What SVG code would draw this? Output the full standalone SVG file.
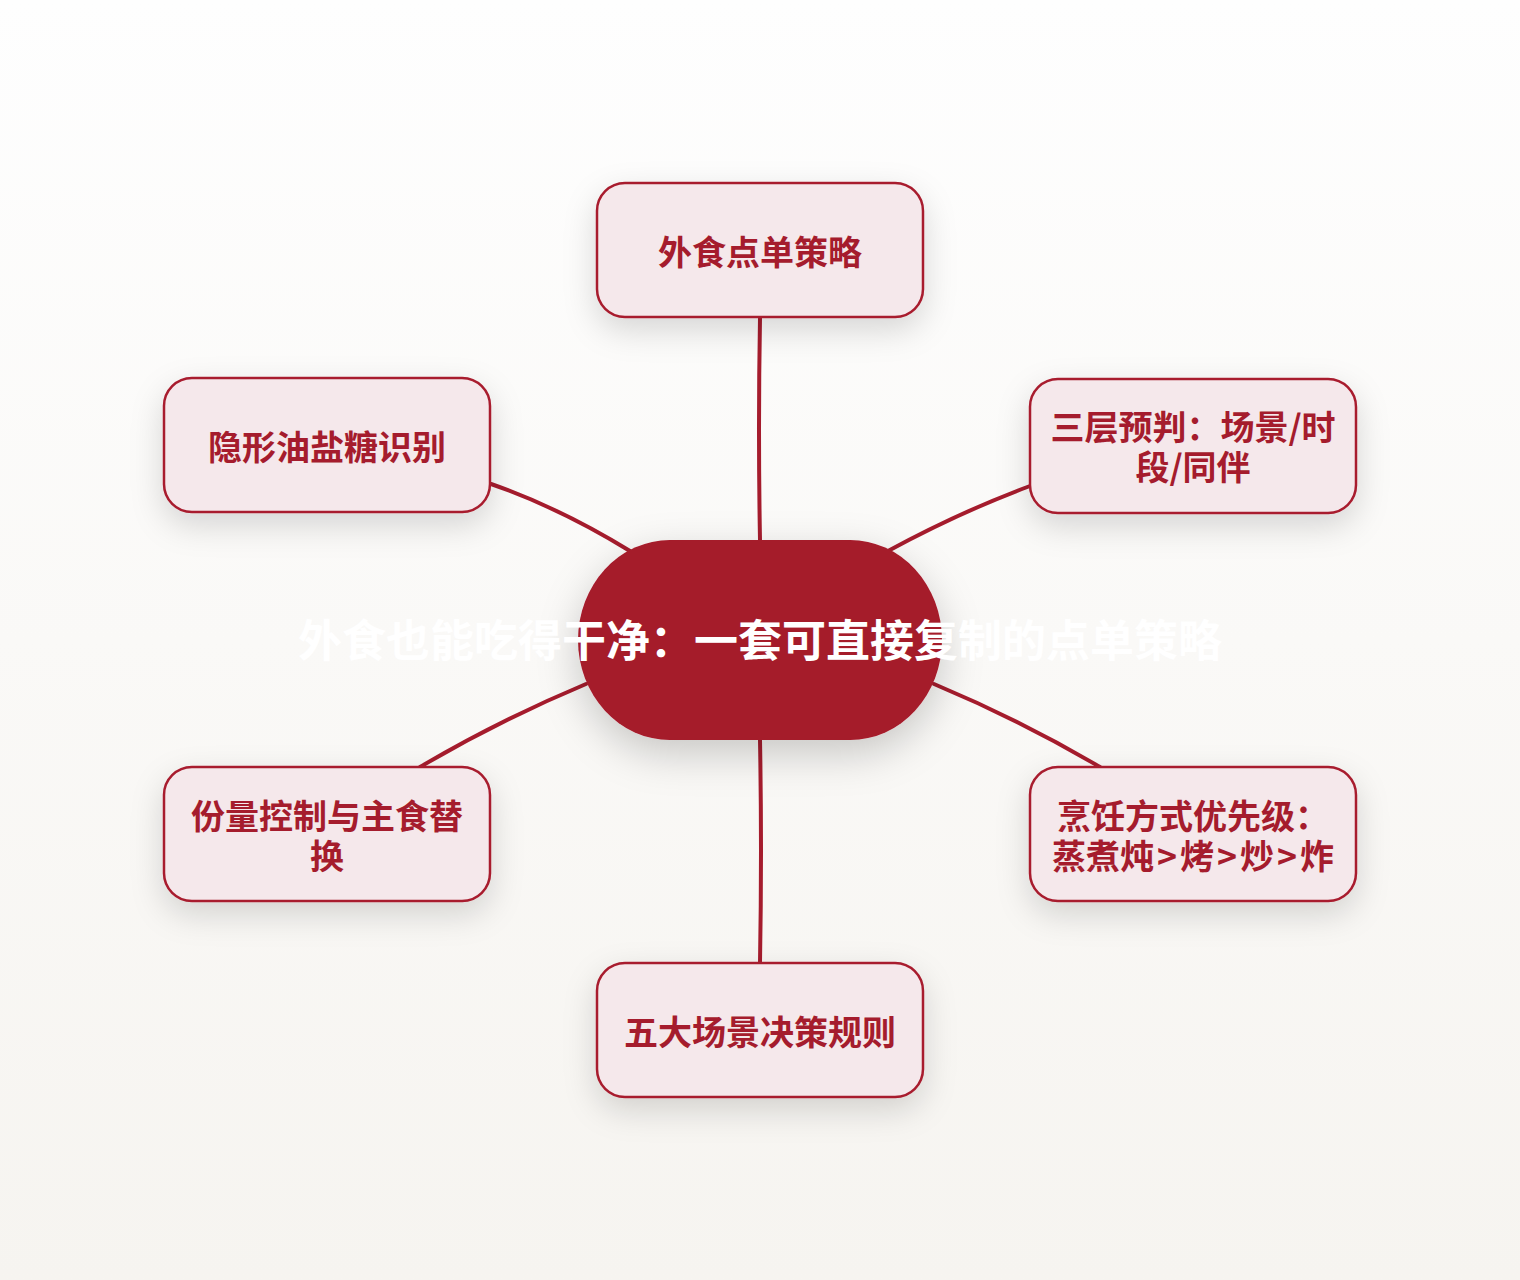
<svg xmlns="http://www.w3.org/2000/svg" width="1520" height="1280" viewBox="0 0 1520 1280">
<defs>
<linearGradient id="bg" x1="0" y1="0" x2="0" y2="1">
<stop offset="0" stop-color="#fefefe"/>
<stop offset="1" stop-color="#f6f4f0"/>
</linearGradient>
<filter id="sh" x="-40%" y="-50%" width="180%" height="210%">
<feDropShadow dx="0" dy="12" stdDeviation="16" flood-color="#000" flood-opacity="0.15"/>
</filter>
<filter id="shc" x="-40%" y="-50%" width="180%" height="210%">
<feDropShadow dx="0" dy="14" stdDeviation="20" flood-color="#000" flood-opacity="0.2"/>
</filter>
</defs>
<style>
.box{fill:#f5e8eb;stroke:#a81c2e;stroke-width:2.5;filter:url(#sh)}
.lbl{font-family:"Noto Sans CJK SC","Noto Sans",sans-serif;font-weight:700;font-size:34px;fill:#a51c2d;text-anchor:middle}
.edge{fill:none;stroke:#a51c2d;stroke-width:4;stroke-linecap:round}
.title{font-family:"Noto Sans CJK SC","Noto Sans",sans-serif;font-weight:700;font-size:44px;fill:#ffffff;text-anchor:middle}
</style>
<rect x="0" y="0" width="1520" height="1280" fill="url(#bg)"/>
<g id="connectors">
<path class="edge" d="M760 318 Q758 430 760 540"/>
<path class="edge" d="M760 740 Q762 850 760 963"/>
<path class="edge" d="M491 484 Q560 508 630 551"/>
<path class="edge" d="M1030 486 Q960 512 888 551"/>
<path class="edge" d="M586 684 Q500 720 420 767"/>
<path class="edge" d="M934 684 Q1020 720 1100 767"/>
</g>
<g id="center">
<rect x="578" y="540" width="364" height="200" rx="92" ry="100" fill="#a51a2a" filter="url(#shc)"/>
<text class="title" x="760" y="657">外食也能吃得干净：一套可直接复制的点单策略</text>
</g>
<g id="n-top">
<rect class="box" x="597" y="183" width="326" height="134" rx="28"/>
<text class="lbl" x="760" y="265">外食点单策略</text>
</g>
<g id="n-left-top">
<rect class="box" x="164" y="378" width="326" height="134" rx="28"/>
<text class="lbl" x="327" y="460">隐形油盐糖识别</text>
</g>
<g id="n-right-top">
<rect class="box" x="1030" y="379" width="326" height="134" rx="28"/>
<text class="lbl"><tspan x="1193" y="440">三层预判：场景/时</tspan><tspan x="1193" y="480">段/同伴</tspan></text>
</g>
<g id="n-left-bottom">
<rect class="box" x="164" y="767" width="326" height="134" rx="28"/>
<text class="lbl"><tspan x="327" y="829">份量控制与主食替</tspan><tspan x="327" y="869">换</tspan></text>
</g>
<g id="n-right-bottom">
<rect class="box" x="1030" y="767" width="326" height="134" rx="28"/>
<text class="lbl"><tspan x="1193" y="829">烹饪方式优先级：</tspan><tspan x="1193" y="869">蒸煮炖<tspan dx="3">&gt;</tspan><tspan dx="3">烤</tspan><tspan dx="3">&gt;</tspan><tspan dx="3">炒</tspan><tspan dx="3">&gt;</tspan><tspan dx="3">炸</tspan></tspan></text>
</g>
<g id="n-bottom">
<rect class="box" x="597" y="963" width="326" height="134" rx="28"/>
<text class="lbl" x="760" y="1045">五大场景决策规则</text>
</g>
</svg>
